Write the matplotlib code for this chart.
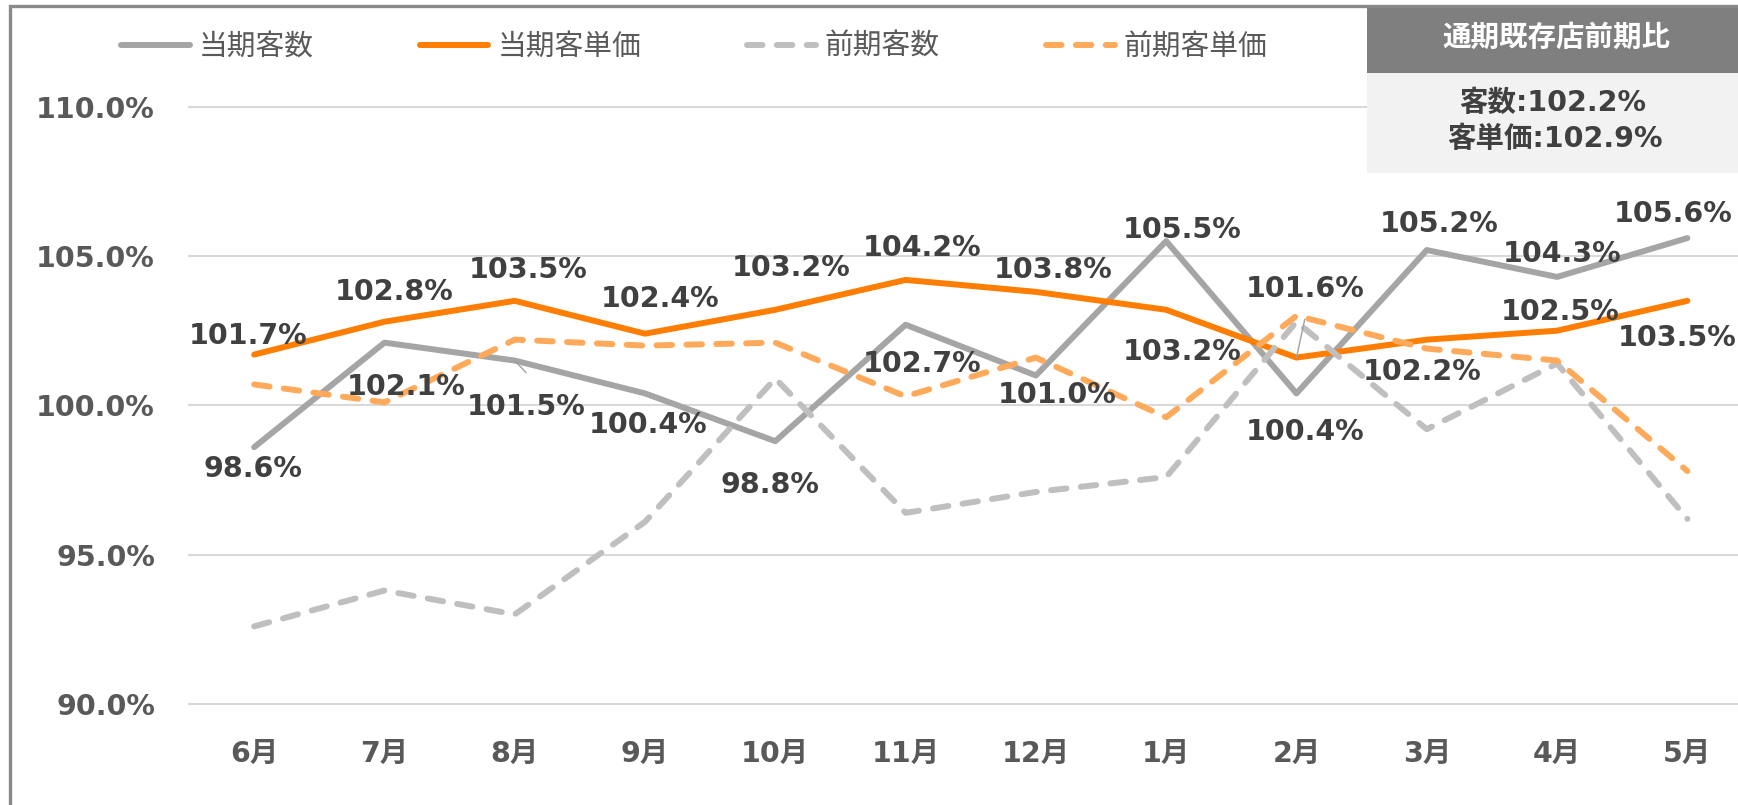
import matplotlib
matplotlib.use('Agg')
import matplotlib.pyplot as plt
from matplotlib.patches import Rectangle
from matplotlib.lines import Line2D

plt.rcParams['font.family'] = ['DejaVu Sans', 'Noto Sans CJK JP']

# ---------------- data ----------------
months = ['6月', '7月', '8月', '9月', '10月', '11月', '12月', '1月', '2月', '3月', '4月', '5月']
cur_customers = [98.6, 102.1, 101.5, 100.4, 98.8, 102.7, 101.0, 105.5, 100.4, 105.2, 104.3, 105.6]
cur_unit_price = [101.7, 102.8, 103.5, 102.4, 103.2, 104.2, 103.8, 103.2, 101.6, 102.2, 102.5, 103.5]
prev_customers = [92.6, 93.8, 93.0, 96.1, 100.9, 96.4, 97.1, 97.6, 102.8, 99.2, 101.4, 96.2]
prev_unit_price = [100.7, 100.1, 102.2, 102.0, 102.1, 100.3, 101.6, 99.6, 103.0, 101.9, 101.5, 97.8]
series_names = ['当期客数', '当期客単価', '前期客数', '前期客単価']
y_ticks = [90, 95, 100, 105, 110]
summary_title = '通期既存店前期比'
summary_customers = 102.2
summary_unit_price = 102.9

# ---------------- label placement (pixels; dy = baseline offset downward) ----------------
cust_dx = [-1, 22, 11, 3, -5, 16, 21, 16, 9, 12, 5, -14]
cust_dy = [30, 52, 54, 40, 52, 47, 28, -3, 46.5, -18.5, -15, -16.5]
price_dx = [-6, 10, 13, 15, 16, 16, 17, 16, 9, -5, 3, -10]
price_dy = [-11, -22, -22.5, -26.5, -34, -23.5, -13.5, 50, -61, 40, -10.7, 45]

W, H = 1738, 805
DPI = 100


def fx(px):
    return px / W


def fy(py):
    return 1 - py / H


fig = plt.figure(figsize=(W / DPI, H / DPI), dpi=DPI)
fig.patch.set_facecolor('white')

ax_left, ax_right, ax_top, ax_bottom = 189, 1752.5, 106.7, 704
ax = fig.add_axes([fx(ax_left), fy(ax_bottom), (ax_right - ax_left) / W, (ax_bottom - ax_top) / H])
ax.set_facecolor('none')

x = list(range(len(months)))
lw = 4.3
c_gray, c_orange, c_lgray, c_lorange = '#a5a5a5', '#ff7d00', '#bfbfbf', '#ffaa5a'
dash = (0, (2.6, 2.4))

l1, = ax.plot(x, cur_customers, color=c_gray, lw=lw, solid_capstyle='round',
              solid_joinstyle='round', zorder=3, label=series_names[0])
l2, = ax.plot(x, cur_unit_price, color=c_orange, lw=lw, solid_capstyle='round',
              solid_joinstyle='round', zorder=4, label=series_names[1])
l3, = ax.plot(x, prev_customers, color=c_lgray, lw=lw, linestyle=dash,
              dash_capstyle='round', dash_joinstyle='round', zorder=5, label=series_names[2])
l4, = ax.plot(x, prev_unit_price, color=c_lorange, lw=lw, linestyle=dash,
              dash_capstyle='round', dash_joinstyle='round', zorder=6, label=series_names[3])

for t in y_ticks:
    ax.axhline(t, color='#d9d9d9', lw=1.5, zorder=0, clip_on=False)

ax.set_xlim(-0.5, len(months) - 0.5)
ax.set_ylim(y_ticks[0], y_ticks[-1])
for s in ax.spines.values():
    s.set_visible(False)

ax.set_yticks(y_ticks)
ax.set_yticklabels([f'{t:.1f}%' for t in y_ticks], fontweight='bold')
ax.tick_params(axis='y', length=0, pad=24.5, labelsize=20.5, labelcolor='#595959')
ax.set_xticks(x)
ax.set_xticklabels(months, fontweight='bold')
ax.tick_params(axis='x', length=0, pad=26, labelsize=20.5, labelcolor='#595959')

lab_kw = dict(textcoords='offset pixels', ha='center', va='baseline', fontsize=20.5,
              fontweight='bold', color='#404040', zorder=10, annotation_clip=False)
for i, v in enumerate(cur_customers):
    ax.annotate(f'{v:.1f}%', xy=(i, v), xytext=(cust_dx[i], -cust_dy[i]), **lab_kw)
for i, v in enumerate(cur_unit_price):
    ax.annotate(f'{v:.1f}%', xy=(i, v), xytext=(price_dx[i], -price_dy[i]), **lab_kw)

# leader lines
lead_kw = dict(arrowstyle='-', color='#a0a0a0', lw=1.0, shrinkA=0, shrinkB=0)
ax.annotate('', xy=(8, cur_unit_price[8]), xytext=(8.3, 38.3), textcoords='offset pixels',
            arrowprops=lead_kw, zorder=9)
ax.annotate('', xy=(2, cur_customers[2]), xytext=(11.3, -12.1), textcoords='offset pixels',
            arrowprops=lead_kw, zorder=9)

# legend
fig.legend([l1, l2, l3, l4], series_names, loc='center left',
           bbox_to_anchor=(fx(121), fy(46.7)), bbox_transform=fig.transFigure,
           ncol=4, frameon=False, prop={'family': ['Noto Sans CJK JP'], 'size': 20.7},
           labelcolor='#595959', handlelength=2.39, handletextpad=0.31,
           columnspacing=3.69, borderpad=0, borderaxespad=0)

# summary box
fig.patches.append(Rectangle((fx(1367), fy(72.7)), (W - 1367) / W, (72.7 - 6) / H,
                             transform=fig.transFigure, facecolor='#7f7f7f',
                             edgecolor='none', zorder=1))
fig.patches.append(Rectangle((fx(1367), fy(172.7)), (W - 1367) / W, 100 / H,
                             transform=fig.transFigure, facecolor='#f2f2f2',
                             edgecolor='none', zorder=1))
fig.text(fx(1556), fy(38.3), summary_title, ha='center', va='center', color='white',
         fontsize=20.5, fontweight='bold', family=['Noto Sans CJK JP'])
fig.text(fx(1553), fy(102.5), f'客数:{summary_customers:.1f}%', ha='center', va='center',
         color='#404040', fontsize=20.5, fontweight='bold')
fig.text(fx(1555), fy(139), f'客単価:{summary_unit_price:.1f}%', ha='center', va='center',
         color='#404040', fontsize=20.5, fontweight='bold')

# outer frame (top & left edges visible)
fig.lines.append(Line2D([fx(10), fx(10), fx(W)], [0, fy(6.5), fy(6.5)],
                        transform=fig.transFigure, color='#898989', lw=2.4,
                        solid_joinstyle='miter', zorder=5))

fig.savefig('out.png', dpi=DPI, facecolor='white')
